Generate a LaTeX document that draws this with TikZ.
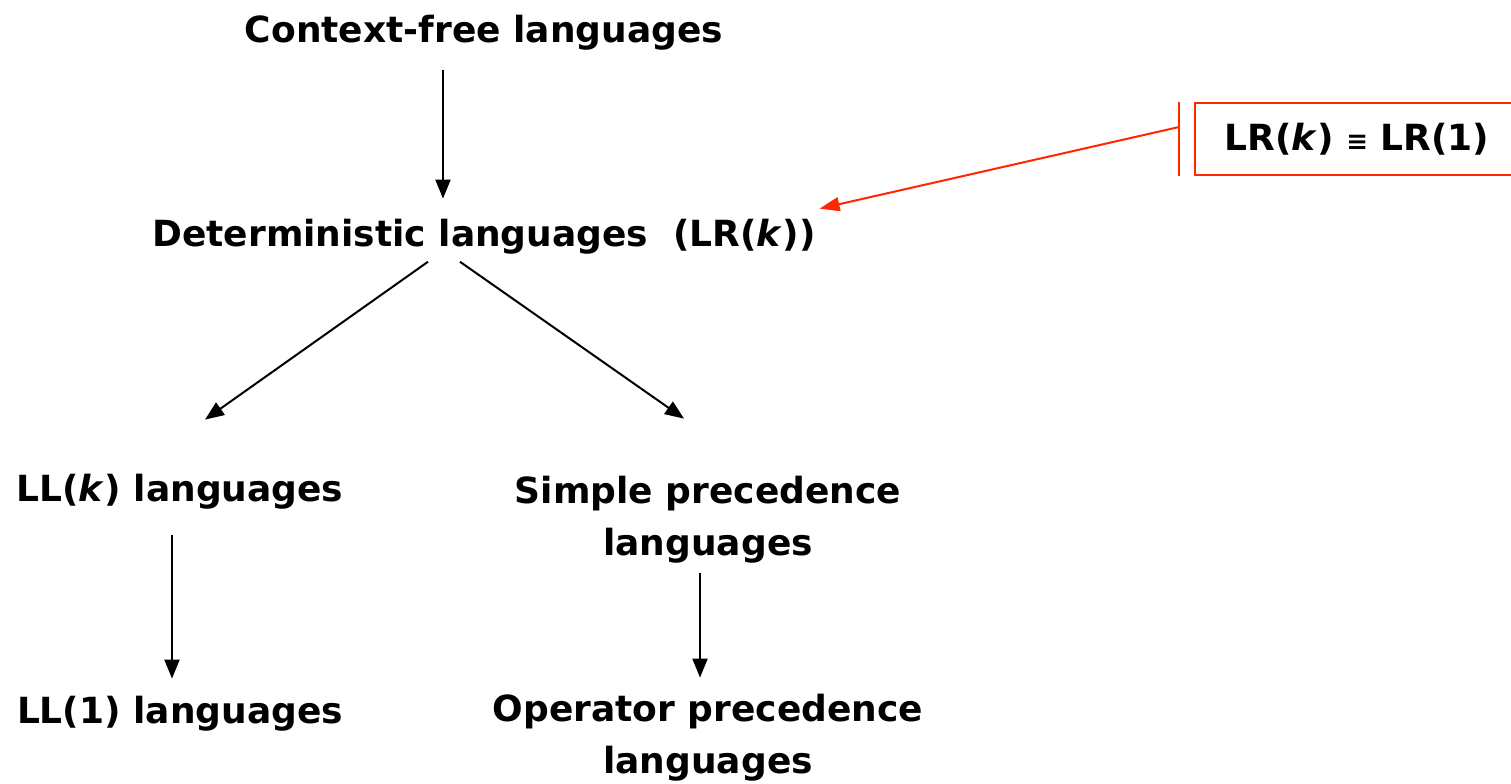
\documentclass[tikz,border=0pt]{standalone}
\usepackage{fontspec}
\setmainfont{DejaVu Sans}
\usetikzlibrary{arrows.meta}
\definecolor{callred}{RGB}{255,38,0}
\tikzset{
  lang/.style={font=\fontsize{18}{26}\selectfont\bfseries, inner sep=0pt, anchor=base, align=center},
  callout/.style={draw=callred, line width=1pt}
}

\begin{document}
\begin{tikzpicture}[->,>={Triangle[length=9.5pt,width=7.5pt]},line width=1pt]
\useasboundingbox (0,0) rectangle (26.553,-13.760);
\node[lang] at (8.505,-0.738) (cf) {Context-free languages};
\node[lang] at (8.505,-4.340) (det) {Deterministic languages\ \ (LR(\textit{k}))};
\node[lang] at (3.163,-8.821) (llk) {LL(\textit{k}) languages};
\node[lang] at (12.442,-9.770) (sp) {Simple precedence\\languages};
\node[lang] at (3.163,-12.722) (ll1) {LL(1) languages};
\node[lang] at (12.442,-13.601) (op) {Operator precedence\\languages};
\node[callout,lang,anchor=center,minimum width=162pt,minimum height=36pt] at (23.846,-2.443) (eq)
  {LR(\textit{k}) {\fontsize{13}{13}\selectfont ≡} LR(1)};
\draw[callout,-] ([xshift=-7.5pt]eq.north west) -- ([xshift=-7.5pt]eq.south west);
\draw[shorten <=9.5pt,shorten >=10pt] ([xshift=-20.5pt]cf.south) -- ([xshift=-20.5pt]det.north);
\draw ([shift={(-28pt,-3pt)}]det.south) -- ([shift={(12.5pt,27pt)}]llk.north);
\draw ([shift={(-12pt,-3pt)}]det.south) -- ([shift={(-12pt,28.5pt)}]sp.north);
\draw[shorten <=12pt,shorten >=8.5pt] ([xshift=-4pt]llk.south) -- ([xshift=-4pt]ll1.north);
\draw[shorten <=4pt,shorten >=8pt] ([xshift=-4pt]sp.south) -- ([xshift=-4pt]op.north);
\draw[callout,-{Triangle[length=10pt,width=7pt]}] ([shift={(-7.5pt,-12.5pt)}]eq.north west) -- ([shift={(1.5pt,5pt)}]det.north east);
\end{tikzpicture}
\end{document}
